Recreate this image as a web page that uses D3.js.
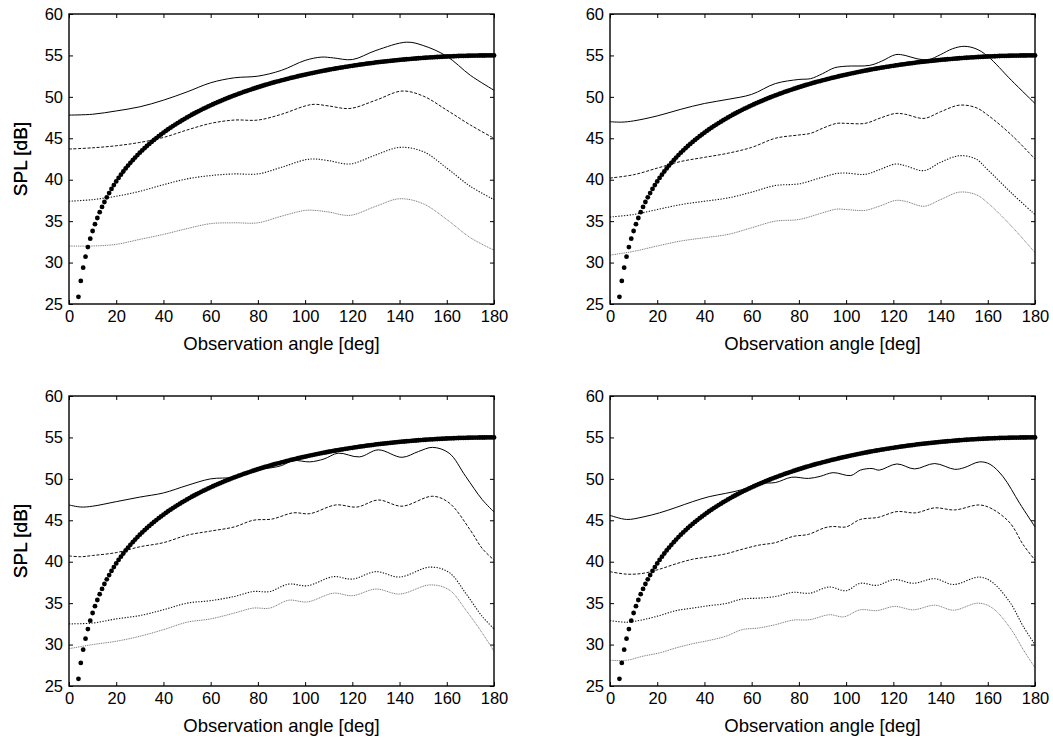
<!DOCTYPE html>
<html lang="en">
<head>
<meta charset="UTF-8">
<title>SPL vs observation angle</title>
<script src="https://cdn.jsdelivr.net/npm/d3@7"></script>
<style>
  body { margin: 0; background: #fff; }
  text { font-family: "Liberation Sans", Arial, sans-serif; fill: #000; }
</style>
</head>
<body>
<script>

var w = 1053;
var h = 740;
var pw = 425, ph = 290;   // plot area of one panel
var panelPos = [[69, 14], [610, 14], [69, 396], [610, 396]];

var xTicks = [0, 20, 40, 60, 80, 100, 120, 140, 160, 180];
var yTicks = [25, 30, 35, 40, 45, 50, 55, 60];
var xTitle = "Observation angle [deg]";
var yTitle = "SPL [dB]";

// thick dotted reference curve, one dot per degree from 4 to 180
var refStart = 4;
var refLevel = [
  25.86,27.79,29.38,30.71,31.87,32.89,33.81,34.63,35.38,36.08,
  36.72,37.31,37.87,38.39,38.89,39.35,39.79,40.21,40.61,40.99,
  41.36,41.71,42.04,42.36,42.67,42.97,43.26,43.54,43.81,44.07,
  44.32,44.56,44.80,45.03,45.25,45.47,45.68,45.89,46.09,46.28,
  46.47,46.66,46.84,47.01,47.19,47.35,47.52,47.68,47.84,47.99,
  48.14,48.29,48.43,48.57,48.71,48.85,48.98,49.11,49.24,49.36,
  49.48,49.60,49.72,49.84,49.95,50.06,50.17,50.28,50.38,50.49,
  50.59,50.69,50.79,50.88,50.98,51.07,51.16,51.25,51.34,51.43,
  51.51,51.59,51.68,51.76,51.84,51.91,51.99,52.06,52.14,52.21,
  52.28,52.35,52.42,52.49,52.56,52.62,52.68,52.75,52.81,52.87,
  52.93,52.99,53.05,53.10,53.16,53.21,53.27,53.32,53.37,53.42,
  53.47,53.52,53.57,53.62,53.66,53.71,53.75,53.79,53.84,53.88,
  53.92,53.96,54.00,54.04,54.07,54.11,54.15,54.18,54.21,54.25,
  54.28,54.31,54.34,54.37,54.40,54.43,54.46,54.49,54.51,54.54,
  54.56,54.59,54.61,54.63,54.66,54.68,54.70,54.72,54.74,54.76,
  54.77,54.79,54.81,54.82,54.84,54.85,54.87,54.88,54.89,54.90,
  54.92,54.93,54.94,54.94,54.95,54.96,54.97,54.97,54.98,54.98,
  54.99,54.99,54.99,55.00,55.00,55.00,55.00
];

// panel 1 (top left)
var p1Solid = [[0,47.8],[10,47.9],[20,48.3],[30,48.8],[40,49.6],[50,50.6],[60,51.7],[70,52.3],[80,52.5],[90,53.2],[100,54.4],[107,54.8],[112,54.7],[120,54.5],[130,55.6],[143,56.6],[150,56.2],[160,54.9],[170,52.6],[180,50.8]];
var p1Dash  = [[0,43.7],[10,43.85],[20,44.1],[30,44.5],[40,45.1],[50,46.0],[60,46.8],[70,47.2],[80,47.2],[90,47.9],[100,48.9],[104,49.1],[110,48.9],[119,48.6],[130,49.6],[141,50.7],[150,50.1],[160,48.4],[170,46.6],[180,45.0]];
var p1Dot   = [[0,37.4],[10,37.6],[20,38.0],[30,38.6],[40,39.4],[50,40.1],[60,40.5],[70,40.7],[80,40.7],[90,41.5],[100,42.4],[104,42.5],[110,42.3],[119,41.9],[130,43.0],[140,43.9],[150,43.4],[160,41.4],[170,39.2],[180,37.6]];
var p1Gray  = [[0,32.0],[10,32.0],[20,32.2],[30,32.8],[40,33.4],[50,34.1],[60,34.7],[70,34.8],[80,34.8],[90,35.6],[100,36.3],[104,36.3],[110,36.1],[119,35.7],[130,36.8],[140,37.7],[150,37.1],[160,35.2],[170,33.0],[180,31.5]];

// panel 2 (top right)
var p2Solid = [[0,47.0],[5,46.95],[10,47.1],[20,47.7],[30,48.5],[40,49.2],[50,49.7],[60,50.3],[70,51.6],[80,52.1],[85,52.2],[90,52.8],[95,53.5],[100,53.7],[110,53.8],[115,54.3],[121,55.1],[125,55.0],[130,54.6],[135,54.5],[140,55.1],[145,55.8],[150,56.1],[155,55.8],[160,54.9],[170,52.0],[180,49.2]];
var p2Dash  = [[0,40.2],[10,40.6],[20,41.4],[30,42.2],[40,42.7],[50,43.2],[60,43.9],[70,45.0],[80,45.4],[85,45.6],[90,46.2],[96,46.8],[100,46.8],[108,46.8],[115,47.5],[121,48.0],[125,47.9],[133,47.4],[140,48.2],[148,49.0],[155,48.7],[160,47.8],[170,45.4],[180,42.5]];
var p2Dot   = [[0,35.5],[10,35.8],[20,36.4],[30,37.0],[40,37.4],[50,37.8],[60,38.5],[70,39.3],[80,39.5],[90,40.3],[96,40.75],[100,40.8],[108,40.65],[114,41.2],[121,41.9],[125,41.7],[133,41.1],[140,42.1],[148,42.9],[155,42.5],[160,41.2],[170,38.4],[180,35.8]];
var p2Gray  = [[0,30.9],[10,31.35],[20,32.0],[30,32.6],[40,33.0],[50,33.4],[60,34.2],[70,35.0],[80,35.2],[90,36.0],[96,36.45],[100,36.4],[108,36.3],[114,36.8],[121,37.5],[125,37.4],[133,36.8],[140,37.6],[148,38.5],[155,38.2],[160,37.2],[170,34.4],[180,31.2]];

// panel 3 (bottom left)
var p3Solid = [[0,46.85],[5,46.6],[10,46.7],[20,47.25],[30,47.8],[40,48.3],[50,49.2],[60,50.0],[70,50.2],[80,51.1],[86,51.35],[90,51.6],[95,52.2],[102,52.05],[108,52.4],[114,53.1],[123,52.65],[131,53.5],[141,52.6],[148,53.3],[154,53.8],[161,53.1],[168,50.3],[175,47.5],[180,46.0]];
var p3Dash  = [[0,40.7],[5,40.6],[10,40.75],[20,41.1],[30,41.8],[40,42.3],[50,43.2],[60,43.7],[70,44.2],[78,45.0],[86,45.15],[95,45.9],[102,45.8],[113,46.85],[122,46.6],[131,47.45],[141,46.7],[154,47.9],[161,47.1],[170,43.8],[175,41.6],[180,40.2]];
var p3Dot   = [[0,32.5],[10,32.6],[20,33.1],[30,33.5],[40,34.2],[50,35.0],[60,35.3],[70,35.8],[78,36.4],[85,36.4],[93,37.3],[101,37.1],[112,38.2],[120,37.9],[130,38.8],[140,38.15],[153,39.35],[161,38.7],[168,36.2],[175,33.4],[180,31.9]];
var p3Gray  = [[0,29.5],[10,30.0],[20,30.4],[30,31.0],[40,31.8],[50,32.7],[60,33.1],[70,33.8],[78,34.4],[85,34.4],[93,35.35],[101,35.15],[112,36.2],[120,35.9],[130,36.7],[140,36.1],[153,37.2],[161,36.6],[168,34.2],[175,31.4],[180,29.2]];

// panel 4 (bottom right)
var p4Solid = [[0,45.6],[7,45.1],[14,45.4],[21,45.9],[28,46.55],[35,47.25],[42,47.85],[49,48.25],[56,48.7],[63,49.45],[70,49.55],[77,50.2],[84,50.05],[89,50.3],[94.5,50.75],[102,50.4],[106,51.05],[111,51.25],[114,51.05],[121.5,51.8],[129,51.2],[137.5,51.85],[146,51.15],[150,51.35],[156.5,52.05],[161,51.75],[166.5,50.25],[173.5,47.05],[180,44.2]];
var p4Dash  = [[0,38.8],[7,38.5],[14,38.6],[21,39.1],[28,39.75],[35,40.3],[42,40.6],[49,40.95],[56,41.5],[63,42.0],[70,42.3],[77.5,43.05],[84,43.3],[91,44.1],[94.5,44.25],[100,44.2],[106,45.1],[113.5,45.35],[121.5,46.05],[129.5,45.9],[137.5,46.5],[146,46.25],[156.5,46.85],[162,46.35],[169.5,44.65],[175,42.05],[180,40.2]];
var p4Dot   = [[0,32.9],[7,32.7],[14,33.0],[21,33.5],[28,34.1],[35,34.4],[42,34.7],[49,34.95],[56,35.5],[63,35.6],[70,35.8],[77.5,36.3],[84.5,36.2],[93,36.95],[100,36.5],[106,37.4],[113,37.15],[120.5,37.85],[128.5,37.4],[137.5,37.95],[145.5,37.25],[156.5,38.15],[162,37.5],[169.5,35.05],[175,32.2],[180,30.0]];
var p4Gray  = [[0,28.1],[7,28.1],[14,28.6],[21,29.0],[28,29.6],[35,30.1],[42,30.5],[49,31.0],[56,31.8],[63,32.0],[70,32.4],[77.5,32.95],[84.5,33.0],[93,33.6],[99,33.35],[106,34.2],[113,34.1],[120.5,34.6],[128.5,34.2],[137.5,34.75],[145.5,34.15],[156,35.0],[162,34.4],[169.5,32.0],[175,29.4],[180,27.2]];

var panelSeries = [
  [p1Solid, p1Dash, p1Dot, p1Gray],
  [p2Solid, p2Dash, p2Dot, p2Gray],
  [p3Solid, p3Dash, p3Dot, p3Gray],
  [p4Solid, p4Dash, p4Dot, p4Gray]
];

var lineStyles = [
  {dash: null,      color: "#000", width: 1},
  {dash: "3,1.6",   color: "#111", width: 1},
  {dash: "1.3,1.5", color: "#111", width: 1.1},
  {dash: "1,0.8",   color: "#777", width: 1}
];

var refData = refLevel.map(function(v, i) { return [refStart + i, v]; });

var svg = d3.select("body").append("svg")
    .attr("width", w)
    .attr("height", h);

svg.append("rect").attr("width", w).attr("height", h).attr("fill", "#fff");

var x = d3.scaleLinear().domain([0, 180]).range([0, pw]);
var y = d3.scaleLinear().domain([25, 60]).range([ph, 0]);

var line = d3.line()
    .x(function(d) { return x(d[0]); })
    .y(function(d) { return y(d[1]); })
    .curve(d3.curveCatmullRom.alpha(0.5));

panelPos.forEach(function(pos, k) {
  var g = svg.append("g").attr("transform", "translate(" + pos[0] + "," + pos[1] + ")");

  // axes with inward ticks on all four sides
  var bottom = g.append("g").attr("transform", "translate(0," + ph + ")")
      .call(d3.axisBottom(x).tickValues(xTicks).tickSizeInner(-4).tickSizeOuter(0).tickPadding(6));
  var left = g.append("g")
      .call(d3.axisLeft(y).tickValues(yTicks).tickSizeInner(-4).tickSizeOuter(0).tickPadding(6));
  var top = g.append("g")
      .call(d3.axisTop(x).tickValues(xTicks).tickSizeInner(-4).tickSizeOuter(0).tickFormat(""));
  var right = g.append("g").attr("transform", "translate(" + pw + ",0)")
      .call(d3.axisRight(y).tickValues(yTicks).tickSizeInner(-4).tickSizeOuter(0).tickFormat(""));

  [bottom, left, top, right].forEach(function(a) {
    a.select(".domain").remove();
    a.selectAll("line").attr("stroke", "#000").attr("stroke-width", 1);
    a.selectAll("text").attr("font-size", "16.5px").attr("fill", "#000")
      .attr("font-family", "'Liberation Sans', Arial, sans-serif");
  });

  // series
  panelSeries[k].forEach(function(s, j) {
    var st = lineStyles[j];
    g.append("path")
      .datum(s)
      .attr("d", line)
      .attr("fill", "none")
      .attr("stroke", st.color)
      .attr("stroke-width", st.width)
      .attr("stroke-dasharray", st.dash);
  });

  // thick dotted curve
  g.selectAll("circle.ref")
    .data(refData)
    .enter()
    .append("circle")
    .attr("class", "ref")
    .attr("cx", function(d) { return x(d[0]); })
    .attr("cy", function(d) { return y(d[1]); })
    .attr("r", 2.4)
    .attr("fill", "#000");

  // frame
  g.append("rect")
    .attr("width", pw)
    .attr("height", ph)
    .attr("fill", "none")
    .attr("stroke", "#000")
    .attr("stroke-width", 1.4);

  g.append("text")
    .attr("x", pw / 2)
    .attr("y", ph + 46)
    .attr("text-anchor", "middle")
    .attr("font-size", "18.5px")
    .text(xTitle);

  g.append("text")
    .attr("transform", "translate(" + (27 - pos[0]) + "," + (ph / 2) + ") rotate(-90)")
    .attr("text-anchor", "middle")
    .attr("font-size", "19px")
    .text(yTitle);
});

</script>
</body>
</html>
